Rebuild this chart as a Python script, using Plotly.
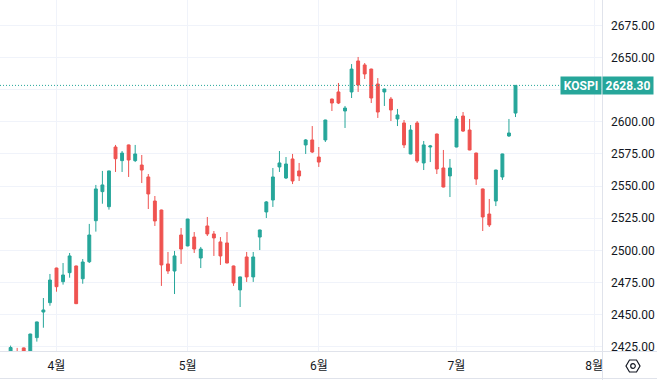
import plotly.graph_objects as go

# ---------------- data (KOSPI daily) ----------------
dates = [
    "2023-03-23", "2023-03-24", "2023-03-27", "2023-03-28", "2023-03-29", "2023-03-30", "2023-03-31",
    "2023-04-03", "2023-04-04", "2023-04-05", "2023-04-06", "2023-04-07", "2023-04-10", "2023-04-11",
    "2023-04-12", "2023-04-13", "2023-04-14", "2023-04-17", "2023-04-18", "2023-04-19", "2023-04-20",
    "2023-04-21", "2023-04-24", "2023-04-25", "2023-04-26", "2023-04-27", "2023-04-28",
    "2023-05-02", "2023-05-03", "2023-05-04", "2023-05-08", "2023-05-09", "2023-05-10", "2023-05-11",
    "2023-05-12", "2023-05-15", "2023-05-16", "2023-05-17", "2023-05-18", "2023-05-19", "2023-05-22",
    "2023-05-23", "2023-05-24", "2023-05-25", "2023-05-26", "2023-05-30", "2023-05-31",
    "2023-06-01", "2023-06-02", "2023-06-05", "2023-06-07", "2023-06-08", "2023-06-09", "2023-06-12",
    "2023-06-13", "2023-06-14", "2023-06-15", "2023-06-16", "2023-06-19", "2023-06-20", "2023-06-21",
    "2023-06-22", "2023-06-23", "2023-06-26", "2023-06-27", "2023-06-28", "2023-06-29", "2023-06-30",
    "2023-07-03", "2023-07-04", "2023-07-05", "2023-07-06", "2023-07-07", "2023-07-10", "2023-07-11",
    "2023-07-12", "2023-07-13", "2023-07-14",
]
opens = [
    2416.0, 2419.0, 2424.2, 2412.0, 2432.2, 2452.1, 2459.4,
    2486.3, 2475.7, 2482.7, 2487.9, 2478.0, 2491.2, 2523.1,
    2545.7, 2534.0, 2580.4, 2569.8, 2582.0, 2569.8, 2566.4,
    2557.1, 2538.4, 2531.4, 2489.5, 2484.0, 2512.0,
    2503.5, 2510.4, 2494.1, 2519.0, 2512.8, 2506.6, 2505.8,
    2487.9, 2469.3, 2494.9, 2479.4, 2510.4, 2529.9, 2539.2,
    2564.9, 2556.3, 2571.1, 2561.8, 2582.0, 2585.9,
    2572.6, 2585.9, 2617.7, 2623.2, 2608.4, 2623.2, 2647.3,
    2644.2, 2641.0, 2629.4, 2623.2, 2617.7, 2602.2, 2599.1,
    2575.0, 2599.1, 2568.0, 2580.4, 2590.5, 2564.1, 2557.9,
    2580.4, 2604.5, 2593.6, 2575.7, 2547.8, 2528.3, 2538.4,
    2557.1, 2589.0, 2606.8,
]
highs = [
    2426.0, 2424.2, 2424.5, 2435.2, 2444.6, 2463.0, 2481.7,
    2486.6, 2490.2, 2498.0, 2488.2, 2493.3, 2520.6, 2550.9,
    2561.8, 2562.0, 2582.0, 2577.3, 2582.3, 2582.0, 2574.2,
    2559.4, 2542.3, 2531.7, 2498.8, 2499.6, 2517.4,
    2524.6, 2514.3, 2502.7, 2526.0, 2515.1, 2510.4, 2514.3,
    2488.2, 2479.6, 2498.8, 2498.8, 2516.1, 2538.4, 2564.1,
    2577.3, 2572.6, 2575.0, 2568.0, 2586.6, 2596.7,
    2580.4, 2601.6, 2618.0, 2630.2, 2612.3, 2644.9, 2650.4,
    2645.7, 2641.3, 2634.0, 2625.7, 2619.3, 2610.0, 2601.4,
    2597.5, 2600.6, 2585.1, 2582.0, 2590.8, 2578.1, 2571.1,
    2604.5, 2607.6, 2602.2, 2576.0, 2548.1, 2540.0, 2562.7,
    2575.2, 2602.2, 2628.5,
]
lows = [
    2412.0, 2410.0, 2405.0, 2408.0, 2429.1, 2439.9, 2457.0,
    2467.9, 2473.4, 2478.8, 2458.3, 2474.1, 2490.2, 2514.6,
    2536.3, 2531.7, 2561.0, 2561.0, 2557.1, 2568.7, 2552.4,
    2532.2, 2519.0, 2472.4, 2481.7, 2466.1, 2489.5,
    2503.2, 2498.0, 2486.3, 2511.2, 2495.7, 2488.7, 2490.0,
    2472.4, 2456.0, 2475.5, 2475.5, 2500.3, 2525.2, 2533.8,
    2561.0, 2555.5, 2551.6, 2554.0, 2575.0, 2575.7,
    2564.9, 2584.3, 2608.4, 2613.8, 2595.2, 2618.5, 2623.2,
    2633.3, 2614.6, 2603.0, 2612.3, 2600.6, 2596.7, 2579.6,
    2574.8, 2568.0, 2562.5, 2568.7, 2559.4, 2549.0, 2541.5,
    2580.2, 2592.1, 2577.9, 2550.9, 2515.1, 2518.2, 2534.5,
    2554.8, 2588.2, 2603.7,
]
closes = [
    2424.5, 2415.0, 2409.0, 2435.0, 2444.4, 2453.7, 2477.0,
    2471.8, 2480.9, 2495.7, 2458.6, 2491.0, 2512.0, 2547.8,
    2550.9, 2561.8, 2571.3, 2575.7, 2570.3, 2575.0, 2562.5,
    2543.9, 2522.9, 2488.7, 2484.0, 2495.7, 2501.1,
    2524.4, 2501.1, 2501.1, 2512.8, 2509.7, 2495.7, 2490.2,
    2474.7, 2479.4, 2479.4, 2494.9, 2515.9, 2537.7, 2557.1,
    2568.0, 2567.2, 2554.0, 2557.9, 2585.9, 2576.5,
    2568.7, 2601.4, 2614.6, 2614.6, 2610.7, 2641.0, 2628.6,
    2637.2, 2618.5, 2607.6, 2625.5, 2609.2, 2605.3, 2582.0,
    2593.6, 2569.5, 2582.0, 2581.2, 2563.3, 2549.3, 2564.1,
    2602.2, 2592.8, 2578.1, 2555.5, 2526.0, 2519.8, 2562.5,
    2575.0, 2591.3, 2628.30,
]

month_tick_idx = [7, 27, 47, 68, 89]          # first trading day of Apr..Aug (Aug = future slot)
month_labels = ["4월", "5월", "6월", "7월", "8월"]
price_ticks = [2425, 2450, 2475, 2500, 2525, 2550, 2575, 2600, 2625, 2650, 2675]
hidden_price_ticks = [2625]                   # covered by the last-price label in the reference
symbol = "KOSPI"

# ---------------- style ----------------
UP = "#26a69a"
DOWN = "#ef5350"
GRID = "#f0f3fa"
BORDER = "#e0e3eb"
TEXT = "#131722"
FONT = "Roboto, 'Noto Sans CJK KR', sans-serif"

W, H = 657, 380
ML, MR, MT, MB = 0, 55, 0, 29
PW = W - ML - MR
PH = H - MT - MB


def px(xp):
    return (xp - ML) / PW


def py(yp):
    return (H - MB - yp) / PH


xs = list(range(len(dates)))
last = closes[-1]

fig = go.Figure()
fig.add_trace(go.Candlestick(
    x=xs, open=opens, high=highs, low=lows, close=closes,
    increasing=dict(line=dict(color=UP, width=1), fillcolor=UP),
    decreasing=dict(line=dict(color=DOWN, width=1), fillcolor=DOWN),
    whiskerwidth=0, hoverinfo="skip", showlegend=False,
))

shapes = [
    # last price dotted line
    dict(type="line", xref="paper", yref="y", x0=0, x1=px(561), y0=last, y1=last,
         line=dict(color=UP, width=1, dash="1px,2px")),
    # price-axis separator (full height)
    dict(type="line", xref="paper", yref="paper", x0=px(602.5), x1=px(602.5), y0=py(380), y1=1,
         line=dict(color=BORDER, width=1)),
    # time-axis separator (full width)
    dict(type="line", xref="paper", yref="paper", x0=0, x1=px(657), y0=py(351.5), y1=py(351.5),
         line=dict(color=BORDER, width=1)),
    # bottom border
    dict(type="line", xref="paper", yref="paper", x0=0, x1=px(657), y0=py(378.5), y1=py(378.5),
         line=dict(color=BORDER, width=1)),
]

# settings (hexagon) icon
cx, cy = 633, 366
hexpts = [(cx - 7, cy), (cx - 3.5, cy - 6), (cx + 3.5, cy - 6), (cx + 7, cy), (cx + 3.5, cy + 6), (cx - 3.5, cy + 6)]
path = "M " + " L ".join(f"{px(a):.5f},{py(b):.5f}" for a, b in hexpts) + " Z"
shapes.append(dict(type="path", xref="paper", yref="paper", path=path,
                   line=dict(color=TEXT, width=1.2)))
shapes.append(dict(type="circle", xref="paper", yref="paper",
                   x0=px(cx - 2.3), x1=px(cx + 2.3), y0=py(cy + 2.3), y1=py(cy - 2.3),
                   line=dict(color=TEXT, width=1.2)))

annotations = [
    dict(xref="paper", yref="y", x=px(581), y=last, text=f"<b>{symbol}</b>", showarrow=False,
         font=dict(family=FONT, size=12, color="white"), bgcolor=UP,
         width=36, height=13, borderpad=2, xanchor="center", yanchor="middle"),
    dict(xref="paper", yref="y", x=px(627.5), y=last, text=f"<b>{last:.2f}</b>", showarrow=False,
         font=dict(family=FONT, size=12, color="white"), bgcolor=UP,
         width=46, height=13, borderpad=2, xanchor="center", yanchor="middle"),
]

fig.update_layout(
    width=W, height=H,
    margin=dict(l=ML, r=MR, t=MT, b=MB, pad=0),
    paper_bgcolor="white", plot_bgcolor="white",
    boxgap=0.37,
    shapes=shapes, annotations=annotations,
    font=dict(family=FONT, size=12, color=TEXT),
    hovermode=False,
)
fig.update_xaxes(
    range=[-1.617, 90.19], rangeslider=dict(visible=False),
    tickmode="array", tickvals=month_tick_idx, ticktext=month_labels,
    showgrid=True, gridcolor=GRID, gridwidth=1, zeroline=False, showline=False,
    ticks="", ticklabelstandoff=6,
    tickfont=dict(family=FONT, size=12, color=TEXT), fixedrange=True,
)
fig.update_yaxes(
    range=[2421.8, 2694.7], side="right",
    tickmode="array", tickvals=price_ticks,
    ticktext=["" if v in hidden_price_ticks else f"{v:.2f}" for v in price_ticks],
    showgrid=True, gridcolor=GRID, gridwidth=1, zeroline=False, showline=False,
    ticks="", ticklabelstandoff=8,
    tickfont=dict(family=FONT, size=12, color=TEXT), fixedrange=True,
)

fig.write_html(
    "out.html",
    config={"displayModeBar": False},
    post_script="document.body.style.margin='0';document.body.style.padding='0';"
                "document.body.style.overflow='hidden';",
)
